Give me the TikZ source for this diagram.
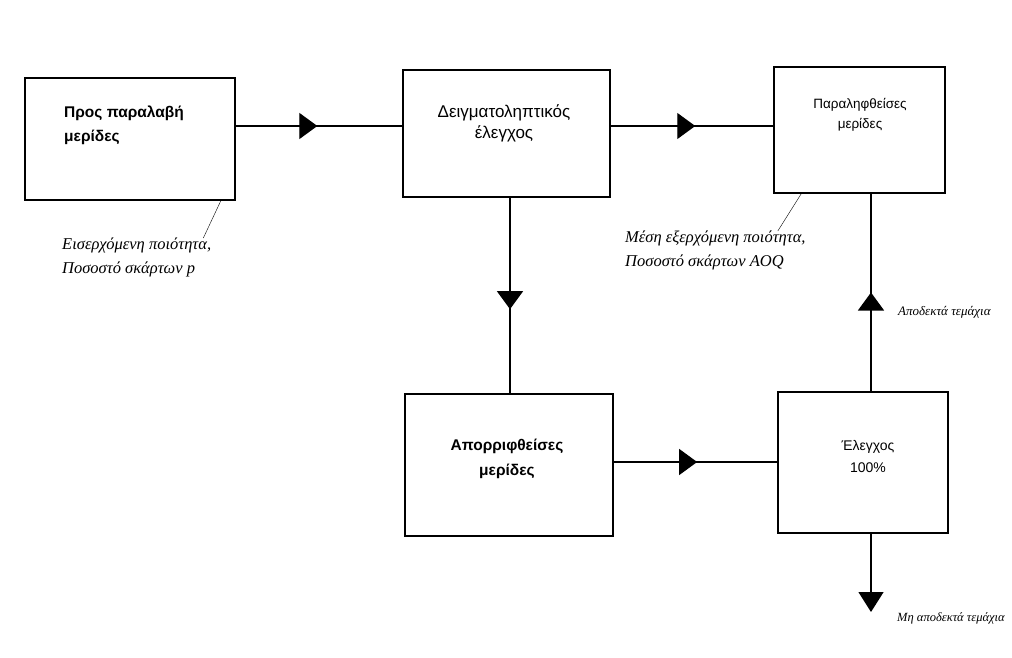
\documentclass[tikz,border=0pt]{standalone}
\usepackage{fontspec}
\setmainfont{Liberation Serif}
\setsansfont{Liberation Sans}
\usetikzlibrary{arrows.meta,decorations.markings}

\tikzset{
  box/.style={draw, line width=1.6pt, rectangle, inner sep=0pt},
  boxtext/.style={font=\sffamily\fontsize{14}{22}\selectfont, align=center, inner sep=0pt},
  note/.style={font=\itshape\fontsize{16.5}{24}\selectfont, align=left, inner sep=0pt},
  flow/.style={line width=1.3pt},
  midtri/.style={flow, postaction={decorate},
    decoration={markings, mark=at position #1 with {\arrow{Triangle[length=18pt,width=26pt]}}}},
}

\begin{document}
\begin{tikzpicture}[x=1pt,y=-1pt]
    \useasboundingbox (0,0) rectangle (1012,658);

    % Draw the five boxes
    \node[box, minimum width=210pt, minimum height=122pt] (incoming) at (130,139) {};
    \node[box, minimum width=207pt, minimum height=127pt] (sampling) at (506.5,133.5) {};
    \node[box, minimum width=171pt, minimum height=126pt] (accepted) at (859.5,130) {};
    \node[box, minimum width=208pt, minimum height=142pt] (rejected) at (509,465) {};
    \node[box, minimum width=170pt, minimum height=141pt] (screening) at (863,462.5) {};

    % Box texts
    \node[boxtext, font=\sffamily\bfseries\fontsize{15.5}{24}\selectfont, align=left, anchor=west] (incoming-txt) at (64,125) {Προς παραλαβή\\μερίδες};
    \node[boxtext, font=\sffamily\fontsize{17}{21}\selectfont] (sampling-txt) at (504,123) {Δειγματοληπτικός\\έλεγχος};
    \node[boxtext, font=\sffamily\fontsize{13.5}{20}\selectfont] (accepted-txt) at (860,115) {Παραληφθείσες\\μερίδες};
    \node[boxtext, font=\sffamily\bfseries\fontsize{15.5}{25}\selectfont] (rejected-txt) at (507,459) {Απορριφθείσες\\μερίδες};
    \node[boxtext] (screening-txt) at (868,456) {Έλεγχος\\100\%};

    % Rows and columns of the connectors
    \coordinate (row1) at (0,126);
    \coordinate (row2) at (0,462);
    \coordinate (col1) at (510,0);
    \coordinate (col2) at (871,0);
    \coordinate (reject) at (871,612);

    % Draw the connectors with the triangles halfway
    \draw[midtri=0.49] (incoming.east |- row1) -- (sampling.west |- row1);
    \draw[midtri=0.52] (sampling.east |- row1) -- (accepted.west |- row1);
    \draw[midtri=0.57] (sampling.south -| col1) -- (rejected.north -| col1);
    \draw[midtri=0.51] (rejected.east |- row2) -- (screening.west |- row2);
    \draw[midtri=0.50] (screening.north -| col2) -- (accepted.south -| col2);
    \draw[flow, -{Triangle[length=20pt,width=25pt]}] (screening.south -| col2) -- (reject);

    % Quality notes under the boxes
    \node[note, anchor=north west] (note-in) at (62,238) {Εισερχόμενη ποιότητα,\\Ποσοστό σκάρτων p};
    \node[note, anchor=north west] (note-out) at (625,231) {Μέση εξερχόμενη ποιότητα,\\Ποσοστό σκάρτων AOQ};
    \draw[thin] ([xshift=-15pt]incoming.south east) -- ([xshift=-8pt]note-in.north east);
    \draw[thin] ([xshift=28pt]accepted.south west) -- ([xshift=-28pt]note-out.north east);

    % Labels of the parts
    \node[note, font=\itshape\fontsize{13}{15}\selectfont, anchor=west] (good-lbl) at (898,312) {Αποδεκτά τεμάχια};
    \node[note, font=\itshape\fontsize{12.5}{15}\selectfont, anchor=west] (bad-lbl) at (897,618) {Μη αποδεκτά τεμάχια};
\end{tikzpicture}
\end{document}
